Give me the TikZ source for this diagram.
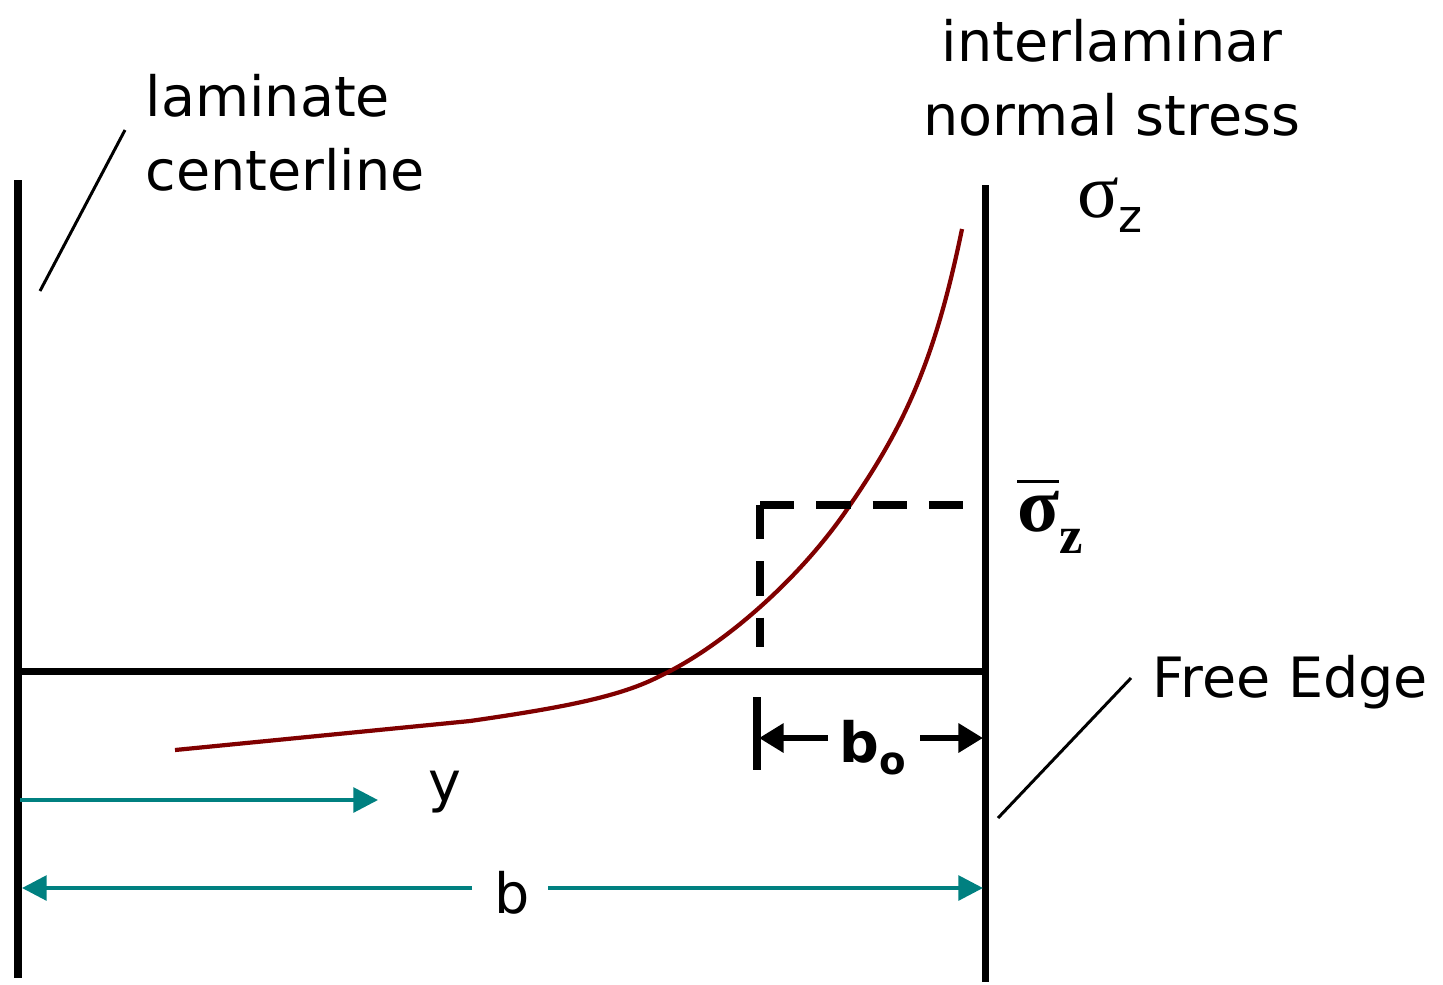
\documentclass[tikz,border=0pt]{standalone}
\usepackage{amsmath}
\usepackage{fontspec}
\setmainfont{DejaVu Sans}
\newfontfamily\serifz{Liberation Serif}
\usepackage{tikz}
\usetikzlibrary{positioning,arrows.meta}

\definecolor{curvered}{RGB}{128,0,0}
\definecolor{dimteal}{RGB}{0,128,128}

\tikzset{
    wall/.style={line width=2pt},
    leader/.style={line width=0.85pt},
    avgdash/.style={line width=2pt, dash pattern=on 9.8pt off 6.2pt},
    dimline/.style={draw=dimteal, line width=1.1pt, -{Triangle[length=7pt,width=7pt]}},
    bzero/.style={line width=1.7pt, -{Triangle[length=7pt,width=8pt]}},
    lbl/.style={font=\fontsize{15.8}{21}\selectfont, inner sep=0pt}
}

\begin{document}
\begin{tikzpicture}[x=0.01cm, y=-0.01cm]
    \useasboundingbox (0,0) rectangle (1443,984);

    % walls and midplane
    \coordinate (ctop) at (18,180);
    \coordinate (cbot) at (18,978);
    \coordinate (etop) at (985,185);
    \coordinate (ebot) at (985,982);
    \coordinate (mleft) at (18,671);
    \coordinate (mright) at (985,671);
    \draw[wall] (ctop) -- (cbot);
    \draw[wall] (etop) -- (ebot);
    \draw[wall] (mleft) -- (mright);

    % stress distribution
    \draw[curvered, line width=1.2pt] (175,750) -- (470,721)
        .. controls (560,708) and (620,697) .. (660,676)
        .. controls (720,648) and (800,580) .. (850,505)
        .. controls (905,425) and (935,360) .. (962,229);

    % average stress box
    \coordinate (dtop) at (760,505);
    \coordinate (dbot) at (760,647);
    \coordinate (dright) at (965,505);
    \draw[avgdash] (dtop) -- (dbot);
    \draw[avgdash] (dtop) -- (dright);

    % b_0 dimension
    \coordinate (tktop) at (757,697);
    \coordinate (tkbot) at (757,770);
    \draw[wall] (tktop) -- (tkbot);
    \node[lbl, font=\fontsize{15.8}{21}\selectfont\bfseries] (bo) at (873,748) {b\raisebox{-0.4ex}{\fontsize{11}{14}\selectfont o}};
    \coordinate (bol) at (828,738);
    \coordinate (bor) at (920,738);
    \draw[bzero] (bol) -- (759,738);
    \draw[bzero] (bor) -- (983,738);

    % y and b dimensions
    \node[lbl] (ylbl) at (445,792) {y};
    \coordinate (ystart) at (20,800);
    \coordinate (yend) at (378,800);
    \draw[dimline] (ystart) -- (yend);
    \node[lbl] (blbl) at (512,893) {b};
    \draw[dimline] (472,888) -- (22,888);
    \draw[dimline] (548,888) -- (983,888);

    % labels
    \node[lbl, align=left, anchor=west] (cline) at (145,133) {laminate\\centerline};
    \draw[leader] (125,130) -- (40,291);
    \node[lbl, align=center] (inorm) at (1112,78) {interlaminar\\normal stress};
    \node[lbl] (sig) at (1110,205) {{\serifz\fontsize{22}{22}\selectfont σ}\raisebox{-0.5ex}{\fontsize{13}{13}\selectfont z}};
    \node[lbl] (sigbar) at (1050,515) {{\serifz\bfseries\fontsize{22}{22}\selectfont$\overline{\text{σ}}$}\raisebox{-0.7ex}{\serifz\bfseries\fontsize{15}{15}\selectfont z}};
    \node[lbl, anchor=west] (fedge) at (1152,682) {Free Edge};
    \draw[leader] (1131,678) -- (998,818);
\end{tikzpicture}
\end{document}
